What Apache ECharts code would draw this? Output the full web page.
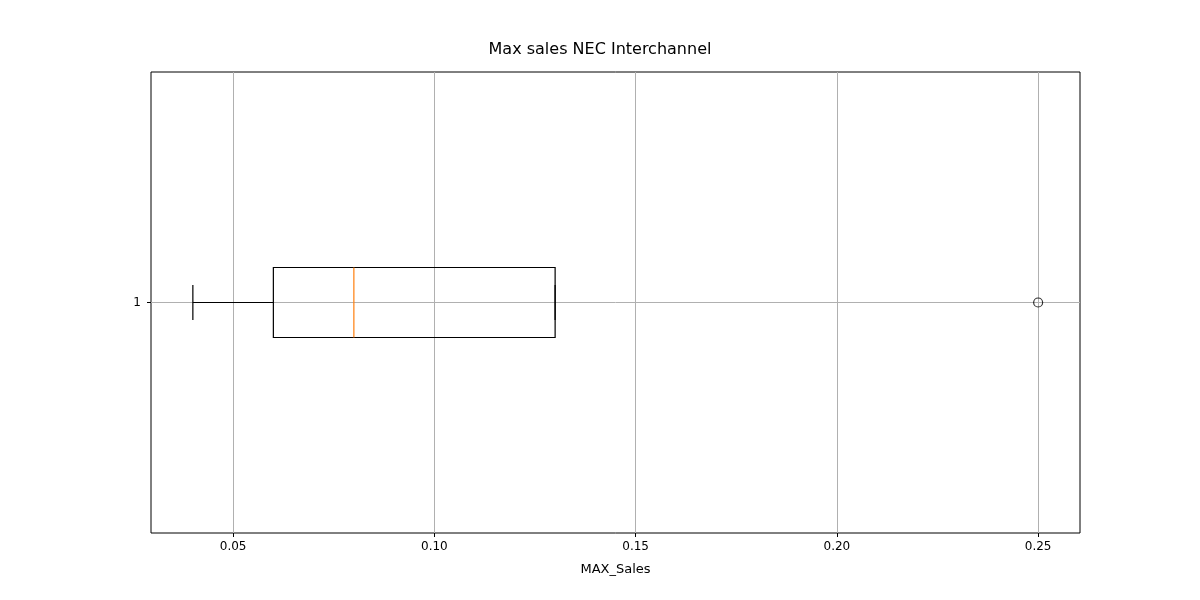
<!DOCTYPE html>
<html>
<head>
<meta charset="utf-8">
<script src="https://cdn.jsdelivr.net/npm/echarts@6/dist/echarts.min.js"></script>
<style>html,body{margin:0;padding:0;background:#fff}#chart{width:1200px;height:600px}</style>
</head>
<body>
<div id="chart"></div>
<script>
var categories = ['1'];
// [low whisker, Q1, median, Q3, high whisker]
var boxStats = [[0.04, 0.06, 0.08, 0.13, 0.13]];
var outliers = [[0.25, '1']];
var tickValues = [0.05, 0.10, 0.15, 0.20, 0.25];

var myChart = echarts.init(document.getElementById('chart'));
var font = 'DejaVu Sans';

option = {
    backgroundColor: '#fff',
    animation: false,
    title: {
        text: 'Max sales NEC Interchannel',
        left: 'center', top: 37,
        textStyle: {fontFamily: font, fontSize: 16, fontWeight: 'normal', color: '#000'}
    },
    grid: {left: 151, right: 120, top: 72, bottom: 67, show: true, borderColor: '#000', borderWidth: 1},
    xAxis: {
        type: 'value', min: 0.0296, max: 0.2604,
        name: 'MAX_Sales', nameLocation: 'middle', nameGap: 30,
        nameTextStyle: {fontFamily: font, fontSize: 13, color: '#000'},
        axisLine: {show: false},
        axisTick: {show: true, customValues: tickValues, length: 4, lineStyle: {color: '#000'}},
        axisLabel: {customValues: tickValues, fontFamily: font, fontSize: 12, color: '#000',
            formatter: function (v) { return v.toFixed(2); }},
        splitLine: {show: false}
    },
    yAxis: {
        type: 'category', data: categories,
        axisLine: {show: false},
        axisTick: {show: true, alignWithLabel: true, length: 4, lineStyle: {color: '#000'}},
        axisLabel: {fontFamily: font, fontSize: 12, color: '#000', margin: 10},
        splitLine: {show: false}
    },
    series: [
        {
            type: 'custom',
            data: boxStats.map(function (s, i) { return [i].concat(s); }),
            encode: {x: [1, 2, 3, 4, 5], y: 0},
            renderItem: function (params, api) {
                var y = api.coord([0, 0])[1];
                var c = function (v) { return api.coord([v, 0])[0]; };
                var lo = c(api.value(1)), q1 = c(api.value(2)), md = c(api.value(3)),
                    q3 = c(api.value(4)), hi = c(api.value(5));
                var h = 35, cap = 17.5;
                var st = {stroke: '#000', lineWidth: 1.2, fill: null};
                return {type: 'group', children: [
                    {type: 'rect', shape: {x: q1, y: y - h, width: q3 - q1, height: 2 * h}, style: st},
                    {type: 'line', shape: {x1: lo, y1: y, x2: q1, y2: y}, style: st},
                    {type: 'line', shape: {x1: q3, y1: y, x2: hi, y2: y}, style: st},
                    {type: 'line', shape: {x1: lo, y1: y - cap, x2: lo, y2: y + cap}, style: st},
                    {type: 'line', shape: {x1: hi, y1: y - cap, x2: hi, y2: y + cap}, style: st},
                    {type: 'line', shape: {x1: md, y1: y - h, x2: md, y2: y + h},
                        style: {stroke: '#ff7f0e', lineWidth: 1.2}}
                ]};
            },
            z: 3
        },
        {
            type: 'scatter',
            data: outliers,
            symbol: 'circle', symbolSize: 9,
            itemStyle: {color: 'transparent', borderColor: '#000', borderWidth: 1.2},
            z: 4,
            markLine: {
                silent: true, symbol: 'none', label: {show: false},
                lineStyle: {color: '#b0b0b0', type: 'solid', width: 1},
                data: tickValues.map(function (v) { return {xAxis: v}; }).concat([{yAxis: '1'}]),
                z: 1
            }
        }
    ]
};
myChart.setOption(option);
</script>
</body>
</html>
